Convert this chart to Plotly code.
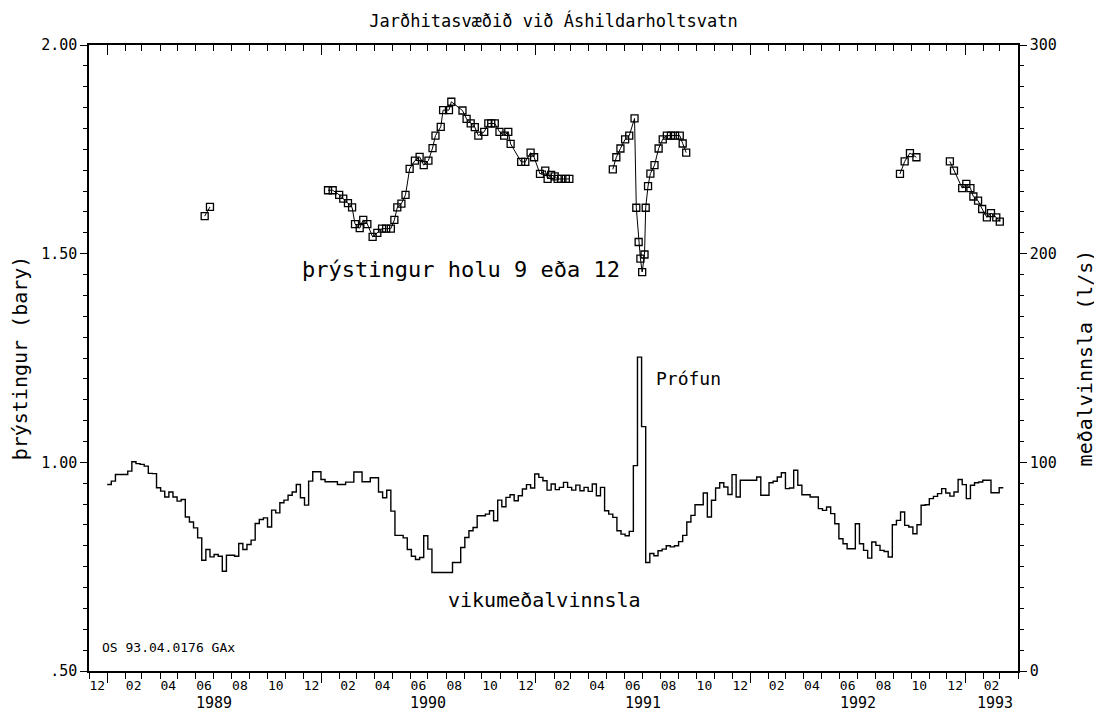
import numpy as np
import pandas as pd
import plotly.graph_objects as go

FONT = "DejaVu Sans Mono"
TITLE = "Jarðhitasvæðið við Áshildarholtsvatn"

# ---- pressure in well 9 or 12 (bar), measured segments ----
p1_dates = ["1989-06-16", "1989-06-25"]
p1_vals = [1.590, 1.612]

p2_dates = ["1990-01-12", "1990-01-20", "1990-01-31", "1990-02-07", "1990-02-15", "1990-02-22",
            "1990-02-27", "1990-03-07", "1990-03-13", "1990-03-20", "1990-03-29", "1990-04-06",
            "1990-04-14", "1990-04-21", "1990-04-29", "1990-05-05", "1990-05-10", "1990-05-17",
            "1990-05-24", "1990-05-31", "1990-06-09", "1990-06-17", "1990-06-24", "1990-07-02",
            "1990-07-09", "1990-07-14", "1990-07-23", "1990-07-27", "1990-08-06", "1990-08-10",
            "1990-08-29", "1990-09-05", "1990-09-12", "1990-09-19", "1990-09-25", "1990-10-05",
            "1990-10-12", "1990-10-17", "1990-10-23", "1990-10-31", "1990-11-08", "1990-11-15",
            "1990-11-19", "1990-12-07", "1990-12-14", "1990-12-23", "1990-12-29", "1991-01-08",
            "1991-01-17", "1991-01-21", "1991-01-27", "1991-02-02", "1991-02-07", "1991-02-13",
            "1991-02-21", "1991-02-27"]
p2_vals = [1.652, 1.652, 1.641, 1.632, 1.621, 1.611, 1.571, 1.561, 1.581, 1.571, 1.540, 1.550,
           1.560, 1.560, 1.560, 1.581, 1.611, 1.620, 1.641, 1.703, 1.723, 1.732, 1.712, 1.723,
           1.753, 1.783, 1.804, 1.844, 1.844, 1.864, 1.843, 1.823, 1.812, 1.803, 1.783, 1.792,
           1.812, 1.812, 1.812, 1.792, 1.783, 1.792, 1.763, 1.720, 1.720, 1.742, 1.731, 1.691,
           1.699, 1.679, 1.689, 1.685, 1.679, 1.679, 1.679, 1.679]

p3_dates = ["1991-05-12", "1991-05-18", "1991-05-25", "1991-06-02", "1991-06-09", "1991-06-18",
            "1991-06-21", "1991-06-25", "1991-06-28", "1991-07-01", "1991-07-05", "1991-07-07",
            "1991-07-11", "1991-07-15", "1991-07-22", "1991-07-29", "1991-08-05", "1991-08-12",
            "1991-08-19", "1991-08-26", "1991-09-03", "1991-09-08", "1991-09-14"]
p3_vals = [1.702, 1.731, 1.752, 1.774, 1.783, 1.824, 1.610, 1.528, 1.488, 1.456, 1.498, 1.610,
           1.662, 1.692, 1.712, 1.752, 1.774, 1.783, 1.783, 1.783, 1.783, 1.764, 1.742]

p4_dates = ["1992-09-12", "1992-09-20", "1992-09-29", "1992-10-10"]
p4_vals = [1.691, 1.721, 1.741, 1.731]

p5_dates = ["1992-12-06", "1992-12-13", "1992-12-27", "1993-01-03", "1993-01-10", "1993-01-15",
            "1993-01-23", "1993-01-30", "1993-02-07", "1993-02-14", "1993-02-23", "1993-03-01"]
p5_vals = [1.721, 1.699, 1.657, 1.667, 1.657, 1.637, 1.627, 1.607, 1.587, 1.597, 1.587, 1.577]

# ---- weekly mean production (l/s), weeks starting 1989-01-01 ----
flow_start = "1989-01-01"
flow_vals = [
    89.4, 91.0, 94.2, 94.2, 94.2, 95.8, 100.3, 99.4, 99.0, 98.2,
    94.7, 94.6, 87.8, 86.2, 83.4, 85.8, 83.4, 81.4, 82.2, 73.8,
    71.4, 68.6, 63.8, 53.1, 58.2, 54.7, 55.8, 55.0, 47.8, 55.5,
    55.5, 55.0, 61.1, 58.2, 60.6, 62.7, 70.7, 72.6, 73.4, 69.0,
    77.1, 75.8, 80.6, 81.9, 84.2, 85.8, 89.4, 83.0, 79.5, 91.0,
    95.5, 95.5, 91.8, 90.7, 90.7, 90.7, 89.4, 89.4, 90.5, 90.5,
    95.4, 95.4, 90.7, 90.7, 92.6, 92.6, 85.8, 83.0, 86.6, 76.6,
    65.0, 65.0, 63.8, 58.2, 55.0, 53.4, 54.4, 64.8, 58.4, 47.2,
    47.2, 47.2, 47.2, 47.2, 52.0, 52.0, 59.2, 64.0, 67.2, 68.8,
    74.4, 74.4, 75.2, 76.8, 72.0, 81.9, 78.7, 83.2, 84.5, 81.6,
    84.0, 87.2, 89.3, 87.7, 94.4, 92.8, 91.2, 86.7, 89.6, 86.9,
    88.0, 90.4, 88.0, 86.7, 89.1, 86.4, 88.0, 86.1, 89.6, 84.0,
    88.0, 76.8, 75.2, 73.6, 67.2, 65.6, 64.8, 66.9, 98.4, 150.4,
    117.1, 52.0, 56.3, 55.2, 57.6, 58.4, 60.0, 59.5, 60.0, 62.0,
    65.0, 71.4, 74.6, 79.7, 79.7, 85.3, 73.8, 81.8, 87.7, 90.2,
    88.2, 84.6, 94.1, 83.4, 91.4, 91.4, 91.4, 91.4, 93.0, 84.2,
    84.2, 90.2, 90.9, 93.0, 95.0, 87.4, 87.7, 96.2, 89.0, 84.5,
    84.5, 83.4, 83.4, 77.8, 77.0, 78.6, 75.4, 70.6, 63.4, 61.0,
    58.6, 58.6, 70.6, 61.0, 57.8, 54.1, 61.8, 60.2, 57.8, 57.3,
    54.6, 70.1, 72.2, 76.2, 69.8, 69.0, 65.8, 70.1, 79.4, 79.7,
    82.6, 83.7, 85.0, 87.4, 85.3, 83.8, 85.8, 91.8, 89.3, 82.6,
    89.0, 90.2, 90.6, 91.4, 91.4, 85.4, 85.4, 87.8,
]

# ---- axes ----
x_range = ["1988-12-01", "1993-04-01"]
month_labels = ["12", "02", "04", "06", "08", "10",
                "12", "02", "04", "06", "08", "10",
                "12", "02", "04", "06", "08", "10",
                "12", "02", "04", "06", "08", "10",
                "12", "02"]
year_labels = ["1989", "1990", "1991", "1992", "1993"]
year_label_dates = ["1989-07-02", "1990-07-02", "1991-07-02", "1992-07-02", "1993-02-20"]
year_starts = ["1989-01-01", "1990-01-01", "1991-01-01", "1992-01-01", "1993-01-01"]
left_tickvals = [0.5, 1.0, 1.5, 2.0]
left_ticktext = [".50", "1.00", "1.50", "2.00"]
right_tickvals = [0, 100, 200, 300]
right_ticktext = ["0", "100", "200", "300"]
left_minor_step = 0.05
right_minor_step = 10

month_ticks = list(pd.date_range(x_range[0], x_range[1], freq="MS"))
month_starts = pd.date_range("1988-12-01", periods=len(month_labels), freq="2MS")
month_label_pos = [d + pd.Timedelta(days=14) for d in month_starts]
left_minor = list(np.round(np.arange(0.5, 2.0001, left_minor_step), 3))
right_minor = list(np.arange(0, 300.1, right_minor_step))

# pressure, segments separated by gaps
px_, py_ = [], []
for ds, vs in [(p1_dates, p1_vals), (p2_dates, p2_vals), (p3_dates, p3_vals),
               (p4_dates, p4_vals), (p5_dates, p5_vals)]:
    px_ += list(pd.to_datetime(ds)) + [None]
    py_ += vs + [None]

# weekly step series
flow_dates = list(pd.date_range(flow_start, periods=len(flow_vals), freq="7D"))
fx = flow_dates + [flow_dates[-1] + pd.Timedelta(days=7)]
fy = flow_vals + [flow_vals[-1]]

fig = go.Figure()
fig.add_trace(go.Scatter(x=fx, y=fy, mode="lines", xaxis="x", yaxis="y2",
                         line=dict(color="black", width=1.4, shape="hv"),
                         showlegend=False, hoverinfo="skip"))
fig.add_trace(go.Scatter(x=px_, y=py_, mode="lines+markers", xaxis="x", yaxis="y",
                         connectgaps=False,
                         line=dict(color="black", width=1),
                         marker=dict(symbol="square-open", size=7, color="black",
                                     line=dict(width=1.3, color="black")),
                         showlegend=False, hoverinfo="skip"))
# helper traces so that the overlay tick axes are rendered
for xa, ya in [("x2", "y"), ("x3", "y"), ("x4", "y"), ("x5", "y"), ("x", "y3"), ("x", "y4")]:
    fig.add_trace(go.Scatter(x=[x_range[0]], y=[None], xaxis=xa, yaxis=ya,
                             mode="lines", showlegend=False, hoverinfo="skip"))

W, H = 1094, 715          # page body has an 8px margin
common_x = dict(type="date", range=x_range, showgrid=False, zeroline=False)
tk = dict(tickcolor="black", tickwidth=1.1, showticklabels=False, tickmode="array")

fig.update_layout(
    width=W, height=H,
    margin=dict(l=81, r=84, t=37, b=52, autoexpand=False),
    paper_bgcolor="white", plot_bgcolor="white",
    font=dict(family=FONT, color="black", size=14),
    title=dict(text=TITLE, x=0.5, xref="paper", xanchor="center",
               y=1 - 13 / H, yref="container", yanchor="middle",
               font=dict(family=FONT, size=17, color="black")),
    # bottom: monthly ticks
    xaxis=dict(**common_x, anchor="y", side="bottom", showline=True, linecolor="black",
               linewidth=1.5, ticks="outside", ticklen=6, tickvals=month_ticks, **tk),
    # bottom: month labels
    xaxis2=dict(**common_x, overlaying="x", anchor="y", side="bottom", showline=False,
                tickmode="array", tickvals=month_label_pos, ticktext=month_labels,
                ticks="outside", ticklen=2, tickcolor="rgba(0,0,0,0)",
                tickfont=dict(family=FONT, size=13, color="black")),
    # top: monthly ticks
    xaxis3=dict(**common_x, overlaying="x", anchor="y", side="top", showline=True,
                linecolor="black", linewidth=1.5, ticks="inside", ticklen=6,
                tickvals=month_ticks, **tk),
    # bottom: year ticks (longer)
    xaxis4=dict(**common_x, overlaying="x", anchor="y", side="bottom", showline=False,
                ticks="outside", ticklen=11, tickvals=year_starts, **tk),
    # top: year ticks (longer)
    xaxis5=dict(**common_x, overlaying="x", anchor="y", side="top", showline=False,
                ticks="inside", ticklen=10, tickvals=year_starts, **tk),
    yaxis=dict(range=[0.5, 2.0], showgrid=False, zeroline=False, showline=True,
               linecolor="black", linewidth=1.5, ticks="outside", ticklen=7,
               tickwidth=1.2, tickcolor="black",
               tickmode="array", tickvals=left_tickvals, ticktext=left_ticktext,
               tickfont=dict(family=FONT, size=15, color="black"),
               title=dict(text="þrýstingur (bary)", standoff=12,
                          font=dict(family=FONT, size=20, color="black"))),
    yaxis3=dict(range=[0.5, 2.0], overlaying="y", side="left", anchor="x",
                showgrid=False, zeroline=False, showline=False,
                ticks="outside", ticklen=5, tickvals=left_minor, **tk),
    yaxis2=dict(range=[0, 300], overlaying="y", side="right", anchor="x",
                showgrid=False, zeroline=False, showline=True,
                linecolor="black", linewidth=1.5, ticks="outside", ticklen=7,
                tickwidth=1.2, tickcolor="black",
                tickmode="array", tickvals=right_tickvals, ticktext=right_ticktext,
                tickfont=dict(family=FONT, size=15, color="black"),
                title=dict(text="meðalvinnsla (l/s)", standoff=22,
                           font=dict(family=FONT, size=20, color="black"))),
    yaxis4=dict(range=[0, 300], overlaying="y", side="right", anchor="x",
                showgrid=False, zeroline=False, showline=False,
                ticks="outside", ticklen=5, tickvals=right_minor, **tk),
)

annots = []
for lab, d in zip(year_labels, year_label_dates):
    annots.append(dict(x=d, y=-0.051, xref="x", yref="paper", text=lab, showarrow=False,
                       xanchor="center", yanchor="middle",
                       font=dict(family=FONT, size=15, color="black")))
annots += [
    dict(x="1990-08-27", y=1.462, xref="x", yref="y", text="þrýstingur holu 9 eða 12",
         showarrow=False, xanchor="center", yanchor="middle",
         font=dict(family=FONT, size=22, color="black")),
    dict(x="1991-07-21", y=1.202, xref="x", yref="y", text="Prófun",
         showarrow=False, xanchor="left", yanchor="middle",
         font=dict(family=FONT, size=18, color="black")),
    dict(x="1991-01-16", y=0.670, xref="x", yref="y", text="vikumeðalvinnsla",
         showarrow=False, xanchor="center", yanchor="middle",
         font=dict(family=FONT, size=20, color="black")),
    dict(x=0.012, y=0.037, xref="paper", yref="paper", text="OS 93.04.0176 GAx",
         showarrow=False, xanchor="left", yanchor="middle",
         font=dict(family=FONT, size=13, color="black")),
]
fig.update_layout(annotations=annots)

fig.write_html("out.html")
